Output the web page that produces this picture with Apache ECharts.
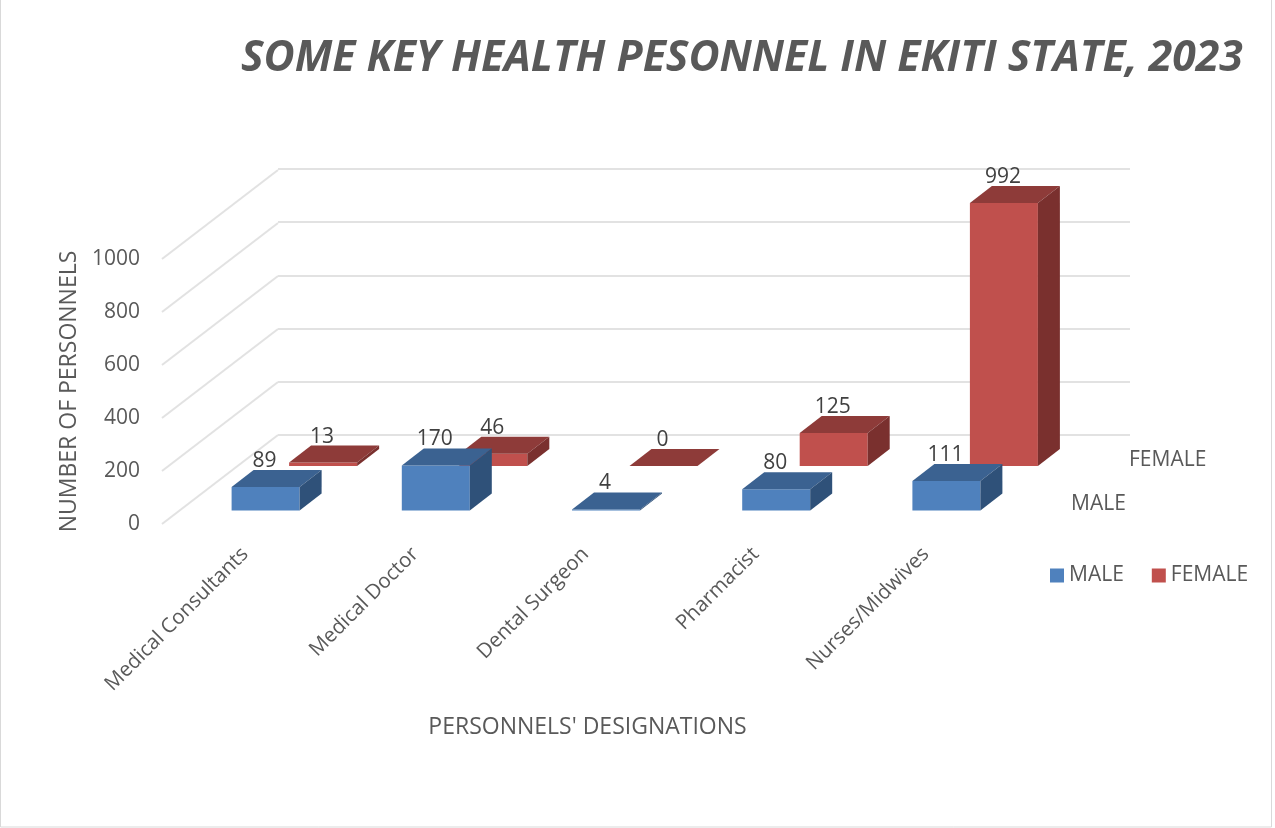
<!DOCTYPE html>
<html>
<head>
<meta charset="utf-8">
<style>html,body{margin:0;padding:0;background:#fff}#main{width:1275px;height:828px}</style>
<script src="https://cdn.jsdelivr.net/npm/echarts@6/dist/echarts.min.js"></script>
</head>
<body>
<div id="main"></div>
<script>
var categories = ['Medical Consultants', 'Medical Doctor', 'Dental Surgeon', 'Pharmacist', 'Nurses/Midwives'];
var male = [89, 170, 4, 80, 111];
var female = [13, 46, 0, 125, 992];
var yTicks = [0, 200, 400, 600, 800, 1000];

var font = '"Open Sans"';
var textColor = '#595959';

var myChart = echarts.init(document.getElementById('main'));

// fake 3d: each series sits on the floor, shifted back from the front plane
function box3d(colors, shiftX, shiftY) {
    return function (params, api) {
        var p = api.coord([api.value(0), api.value(1)]);
        var w = 68, dx = 22, dy = -17;
        var x = p[0] + shiftX - w / 2;
        var top = p[1] + shiftY;
        var bottom = api.coord([api.value(0), 0])[1] + shiftY;
        return {
            type: 'group',
            children: [
                { type: 'polygon', shape: { points: [[x, bottom], [x + w, bottom], [x + w, top], [x, top]] }, style: { fill: colors[0] } },
                { type: 'polygon', shape: { points: [[x, top], [x + w, top], [x + w + dx, top + dy], [x + dx, top + dy]] }, style: { fill: colors[1] } },
                { type: 'polygon', shape: { points: [[x + w, bottom], [x + w + dx, bottom + dy], [x + w + dx, top + dy], [x + w, top]] }, style: { fill: colors[2] } },
                {
                    type: 'text', z2: 50,
                    style: {
                        x: p[0] + shiftX - 1, y: top + dy - 9,
                        text: String(api.value(1)),
                        fill: '#404040', font: '21px ' + font,
                        align: 'center', verticalAlign: 'middle'
                    }
                }
            ]
        };
    };
}

function sideLine(params, api) {
    var y = api.coord([0, api.value(0)])[1];
    var x = params.coordSys.x;
    return {
        type: 'line',
        shape: { x1: x + 2, y1: y, x2: x + 118, y2: y - 89 },
        style: { stroke: '#e2e2e2', lineWidth: 2 }
    };
}

function depthName(params, api) {
    var names = ['MALE', 'FEMALE'];
    var cs = params.coordSys;
    var shift = params.dataIndex === 0 ? [60, -20] : [118, -64];
    return {
        type: 'text',
        style: {
            x: cs.x + cs.width + shift[0], y: cs.y + cs.height + shift[1],
            text: names[params.dataIndex],
            fill: textColor, font: '21px ' + font,
            align: 'left', verticalAlign: 'middle'
        }
    };
}

var option = {
    animation: false,
    backgroundColor: '#fff',
    title: {
        text: 'SOME KEY HEALTH PESONNEL IN EKITI STATE, 2023',
        left: 236,
        top: 32,
        textStyle: { color: textColor, fontFamily: font, fontSize: 42.7, fontWeight: 'bold', fontStyle: 'italic' }
    },
    legend: {
        data: ['MALE', 'FEMALE'],
        left: 1045,
        top: 560,
        icon: 'rect',
        itemWidth: 14,
        itemHeight: 14,
        itemGap: 28,
        textStyle: { color: textColor, fontFamily: font, fontSize: 21 }
    },
    grid: [
        { left: 160, top: 259, width: 851, height: 265 },
        { left: 278, top: 169, width: 852, height: 266 }
    ],
    xAxis: [
        {
            type: 'category', gridIndex: 0, data: categories,
            axisLine: { show: false }, axisTick: { show: false },
            axisLabel: { rotate: 45, interval: 0, margin: 27, color: textColor, fontFamily: font, fontSize: 20.5 },
            name: "PERSONNELS' DESIGNATIONS",
            nameLocation: 'middle', nameGap: 192,
            nameTextStyle: { color: textColor, fontFamily: font, fontSize: 23, padding: [0, 0, 0, 4] }
        },
        { type: 'category', gridIndex: 1, data: categories, show: false }
    ],
    yAxis: [
        {
            type: 'value', gridIndex: 0, min: 0, max: 1000, interval: 200,
            axisLine: { show: false }, axisTick: { show: false }, splitLine: { show: false },
            axisLabel: {
                margin: 20, color: textColor, fontFamily: font, fontSize: 21,
                padding: [4, 0, 0, 0],
                formatter: function (v) { return String(v); }
            },
            name: 'NUMBER OF PERSONNELS',
            nameLocation: 'middle', nameGap: 76,
            nameTextStyle: { color: textColor, fontFamily: font, fontSize: 23 }
        },
        {
            type: 'value', gridIndex: 1, min: 0, max: 1000, interval: 200,
            axisLine: { show: false }, axisTick: { show: false }, axisLabel: { show: false },
            splitLine: { show: true, lineStyle: { color: '#e2e2e2', width: 2 } }
        }
    ],
    graphic: [{
        type: 'rect', silent: true, z: -1,
        shape: { x: 0.5, y: -2, width: 1271, height: 829 },
        style: { fill: null, stroke: '#d9d9d9', lineWidth: 1 }
    }],
    series: [
        {
            type: 'custom', name: 'walls', silent: true, xAxisIndex: 0, yAxisIndex: 0,
            data: yTicks.map(function (v) { return [v]; }),
            encode: { y: 0 },
            renderItem: sideLine
        },
        {
            type: 'custom', name: 'FEMALE', silent: true, xAxisIndex: 0, yAxisIndex: 0,
            itemStyle: { color: '#C0504D' },
            data: female.map(function (v, i) { return [i, v]; }),
            encode: { x: 0, y: 1 },
            renderItem: box3d(['#C0504D', '#8E3B39', '#7A302E'], 78, -58)
        },
        {
            type: 'custom', name: 'MALE', silent: true, xAxisIndex: 0, yAxisIndex: 0,
            itemStyle: { color: '#4F81BD' },
            data: male.map(function (v, i) { return [i, v]; }),
            encode: { x: 0, y: 1 },
            renderItem: box3d(['#4F81BD', '#3B6291', '#2F5179'], 20.5, -13.5)
        },
        {
            type: 'custom', name: 'depth', silent: true, xAxisIndex: 0, yAxisIndex: 0,
            data: [[0], [1]],
            encode: { x: 0 },
            renderItem: depthName
        }
    ]
};

myChart.setOption(option);
</script>
</body>
</html>
